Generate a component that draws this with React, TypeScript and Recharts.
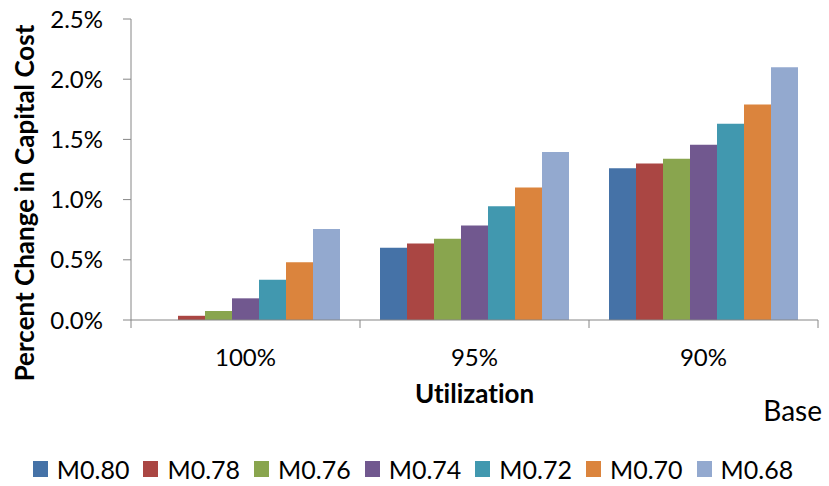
import { BarChart, Bar, XAxis, YAxis, Legend, Label } from "recharts";

// utilization levels along the x axis
const categories = ["100%", "95%", "90%"];

// percent change in capital cost, one array per M scenario
const m080 = [0, 0.6, 1.26];
const m078 = [0.035, 0.635, 1.3];
const m076 = [0.075, 0.675, 1.34];
const m074 = [0.18, 0.785, 1.455];
const m072 = [0.335, 0.945, 1.63];
const m070 = [0.48, 1.1, 1.79];
const m068 = [0.755, 1.395, 2.1];

const yTicks = [0, 0.5, 1, 1.5, 2, 2.5];

const series = [
  { key: "M0.80", values: m080, color: "#4572A7" },
  { key: "M0.78", values: m078, color: "#AA4643" },
  { key: "M0.76", values: m076, color: "#89A54E" },
  { key: "M0.74", values: m074, color: "#71588F" },
  { key: "M0.72", values: m072, color: "#4198AF" },
  { key: "M0.70", values: m070, color: "#DB843D" },
  { key: "M0.68", values: m068, color: "#93A9CF" },
];

const data = categories.map((c, i) => {
  const row: Record<string, string | number> = { name: c };
  series.forEach((s) => (row[s.key] = s.values[i]));
  return row;
});

const FONT = "Lato, 'Open Sans', sans-serif";
const AXIS = "#868686";
const noLig = { fontVariantLigatures: "none" } as const;

function XTick(props: any) {
  const { x, y, payload, index, visibleTicksCount } = props;
  const half = payload.offset || 0;
  return (
    <g>
      <line x1={x - half} x2={x - half} y1={y} y2={y + 8} stroke={AXIS} />
      {index === visibleTicksCount - 1 && (
        <line x1={x + half} x2={x + half} y1={y} y2={y + 8} stroke={AXIS} />
      )}
      <text x={x} y={y + 46} textAnchor="middle" fontSize={24} fontFamily={FONT} fill="#000">
        {payload.value}
      </text>
    </g>
  );
}

// legend keeps the series order (recharts would sort it otherwise)
function LegendBox() {
  return (
    <div
      style={{
        display: "flex",
        justifyContent: "center",
        alignItems: "center",
        height: 46,
        paddingTop: 12,
        paddingLeft: 8,
        boxSizing: "border-box",
        fontFamily: FONT,
        fontSize: 25,
        color: "#000",
      }}
    >
      {series.map((s, i) => (
        <div
          key={s.key}
          style={{ display: "flex", alignItems: "center", marginRight: i === series.length - 1 ? 0 : 14 }}
        >
          <span style={{ width: 15, height: 16, background: s.color, marginRight: 9 }} />
          <span>{s.key}</span>
        </div>
      ))}
    </div>
  );
}

export default function App() {
  return (
    <div style={{ position: "absolute", left: 0, top: 0, width: 829, height: 486, background: "#fff" }}>
      <BarChart
        width={829}
        height={486}
        data={data}
        margin={{ top: 19, right: 11, left: 0, bottom: 0 }}
        barCategoryGap={20}
        barGap={0}
      >
        <XAxis
          dataKey="name"
          height={120}
          stroke={AXIS}
          tickLine={false}
          tickSize={0}
          tickMargin={0}
          tick={<XTick />}
          interval={0}
        >
          <Label
            content={({ viewBox }: any) => (
              <text
                x={viewBox.x + viewBox.width / 2}
                y={403}
                textAnchor="middle"
                fontSize={26}
                fontWeight="bold"
                fontFamily={FONT}
                fill="#000"
                style={noLig}
              >
                Utilization
              </text>
            )}
          />
          <Label
            content={() => (
              <text x={822} y={421} textAnchor="end" fontSize={28} fontFamily={FONT} fill="#000">
                Base
              </text>
            )}
          />
        </XAxis>
        <YAxis
          width={131}
          domain={[0, 2.5]}
          ticks={yTicks}
          tickFormatter={(v: number) => v.toFixed(1) + "%"}
          stroke={AXIS}
          tickSize={8}
          tickMargin={20}
          tick={{ fontSize: 24, fontFamily: FONT, fill: "#000" }}
          allowDataOverflow
        >
          <Label
            content={() => (
              <text
                x={24}
                y={203}
                transform="rotate(-90 24 203)"
                textAnchor="middle"
                dominantBaseline="central"
                fontSize={26}
                fontWeight="bold"
                fontFamily={FONT}
                fill="#000"
                style={noLig}
              >
                Percent Change in Capital Cost
              </text>
            )}
          />
        </YAxis>
        <Legend verticalAlign="bottom" content={<LegendBox />} />
        {series.map((s) => (
          <Bar key={s.key} dataKey={s.key} fill={s.color} isAnimationActive={false} />
        ))}
      </BarChart>
    </div>
  );
}
